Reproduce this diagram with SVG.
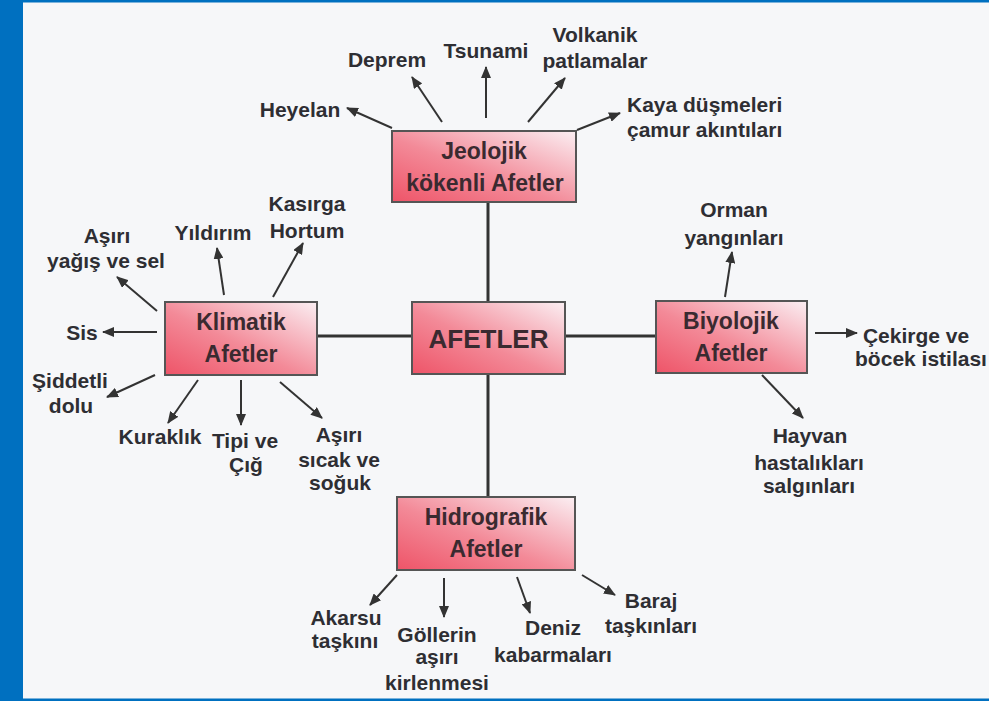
<svg xmlns="http://www.w3.org/2000/svg" width="989" height="701" viewBox="0 0 989 701">
<defs>
<linearGradient id="boxg" x1="0" y1="1" x2="1" y2="0">
<stop offset="0" stop-color="#ee5468"/>
<stop offset="0.45" stop-color="#f38a98"/>
<stop offset="1" stop-color="#fbeff3"/>
</linearGradient>
<marker id="ah" viewBox="0 0 12 10" refX="11" refY="5" markerWidth="12" markerHeight="10" markerUnits="userSpaceOnUse" orient="auto">
<path d="M0,0 L12,5 L0,10 Z" fill="#333"/>
</marker>
<style>
.box{fill:url(#boxg);stroke:#555;stroke-width:2}
.bt{font-family:"Liberation Sans",Arial,sans-serif;font-weight:bold;font-size:23px;fill:#3a2a30;text-anchor:middle}
.main{font-size:26px}
.lb{font-family:"Liberation Sans",Arial,sans-serif;font-weight:bold;font-size:21px;fill:#2e2e33;text-anchor:middle}
.st{text-anchor:start}
.ln{stroke:#333;stroke-width:3;fill:none}
.ar{stroke:#333;stroke-width:2;fill:none;marker-end:url(#ah)}
</style>
</defs>
<rect x="0" y="0" width="989" height="701" fill="#f6f7f9"/>
<rect x="0" y="0" width="23" height="701" fill="#0070c0"/>
<rect x="0" y="0" width="989" height="2.5" fill="#0070c0"/>
<rect x="0" y="698.5" width="989" height="2.5" fill="#0070c0"/>

<g id="connectors">
<line class="ln" x1="488" y1="202" x2="488" y2="302"/>
<line class="ln" x1="488" y1="374" x2="488" y2="497"/>
<line class="ln" x1="317" y1="336" x2="412" y2="336"/>
<line class="ln" x1="565" y1="336" x2="656" y2="336"/>
<!-- Jeolojik -->
<line class="ar" x1="392" y1="128" x2="347" y2="108"/>
<line class="ar" x1="442" y1="122" x2="412" y2="77"/>
<line class="ar" x1="486" y1="118" x2="486" y2="67"/>
<line class="ar" x1="528" y1="122" x2="565" y2="78"/>
<line class="ar" x1="577" y1="130" x2="620" y2="113"/>
<!-- Klimatik -->
<line class="ar" x1="157" y1="311" x2="117" y2="277"/>
<line class="ar" x1="224" y1="295" x2="217" y2="248"/>
<line class="ar" x1="273" y1="297" x2="303" y2="243"/>
<line class="ar" x1="157" y1="332" x2="103" y2="332"/>
<line class="ar" x1="155" y1="375" x2="107" y2="397"/>
<line class="ar" x1="198" y1="380" x2="168" y2="423"/>
<line class="ar" x1="241" y1="380" x2="241" y2="425"/>
<line class="ar" x1="280" y1="382" x2="322" y2="418"/>
<!-- Biyolojik -->
<line class="ar" x1="725" y1="297" x2="732" y2="252"/>
<line class="ar" x1="815" y1="333" x2="857" y2="333"/>
<line class="ar" x1="762" y1="375" x2="803" y2="418"/>
<!-- Hidrografik -->
<line class="ar" x1="397" y1="575" x2="370" y2="605"/>
<line class="ar" x1="444" y1="578" x2="444" y2="617"/>
<line class="ar" x1="517" y1="577" x2="530" y2="613"/>
<line class="ar" x1="582" y1="575" x2="615" y2="595"/>
</g>

<g id="afetler">
<rect class="box" x="412" y="302" width="153" height="72"/>
<text class="bt main" x="488.5" y="348">AFETLER</text>
</g>
<g id="jeolojik">
<rect class="box" x="392" y="131" width="184" height="71"/>
<text class="bt" x="484" y="159">Jeolojik</text>
<text class="bt" x="485" y="191">kökenli Afetler</text>
</g>
<g id="klimatik">
<rect class="box" x="165" y="302" width="152" height="73"/>
<text class="bt" x="241" y="330">Klimatik</text>
<text class="bt" x="241" y="362">Afetler</text>
</g>
<g id="biyolojik">
<rect class="box" x="656" y="301" width="151" height="72"/>
<text class="bt" x="731" y="329">Biyolojik</text>
<text class="bt" x="731" y="361">Afetler</text>
</g>
<g id="hidrografik">
<rect class="box" x="397" y="497" width="178" height="73"/>
<text class="bt" x="486" y="525">Hidrografik</text>
<text class="bt" x="486" y="557">Afetler</text>
</g>

<g id="jeolojik-items">
<text class="lb" x="300" y="117">Heyelan</text>
<text class="lb" x="387" y="67">Deprem</text>
<text class="lb" x="486" y="58">Tsunami</text>
<text class="lb" x="595" y="42">Volkanik</text>
<text class="lb" x="595" y="68">patlamalar</text>
<text class="lb st" x="627" y="112">Kaya düşmeleri</text>
<text class="lb st" x="627" y="137">çamur akıntıları</text>
</g>
<g id="klimatik-items">
<text class="lb" x="107" y="243">Aşırı</text>
<text class="lb" x="106" y="268">yağış ve sel</text>
<text class="lb" x="213" y="240">Yıldırım</text>
<text class="lb" x="307" y="211">Kasırga</text>
<text class="lb" x="307" y="238">Hortum</text>
<text class="lb" x="82" y="340">Sis</text>
<text class="lb" x="70" y="388">Şiddetli</text>
<text class="lb" x="71" y="413">dolu</text>
<text class="lb" x="160" y="444">Kuraklık</text>
<text class="lb" x="245" y="448">Tipi ve</text>
<text class="lb" x="246" y="472">Çığ</text>
<text class="lb" x="339" y="442">Aşırı</text>
<text class="lb" x="339" y="467">sıcak ve</text>
<text class="lb" x="340" y="490">soğuk</text>
</g>
<g id="biyolojik-items">
<text class="lb" x="734" y="217">Orman</text>
<text class="lb" x="734" y="245">yangınları</text>
<text class="lb" x="916" y="343">Çekirge ve</text>
<text class="lb" x="921" y="366">böcek istilası</text>
<text class="lb" x="810" y="443">Hayvan</text>
<text class="lb" x="809" y="470">hastalıkları</text>
<text class="lb" x="809" y="493">salgınları</text>
</g>
<g id="hidrografik-items">
<text class="lb" x="346" y="625">Akarsu</text>
<text class="lb" x="345" y="648">taşkını</text>
<text class="lb" x="437" y="642">Göllerin</text>
<text class="lb" x="437" y="664">aşırı</text>
<text class="lb" x="437" y="690">kirlenmesi</text>
<text class="lb" x="553" y="635">Deniz</text>
<text class="lb" x="553" y="662">kabarmaları</text>
<text class="lb" x="651" y="608">Baraj</text>
<text class="lb" x="651" y="633">taşkınları</text>
</g>
</svg>
